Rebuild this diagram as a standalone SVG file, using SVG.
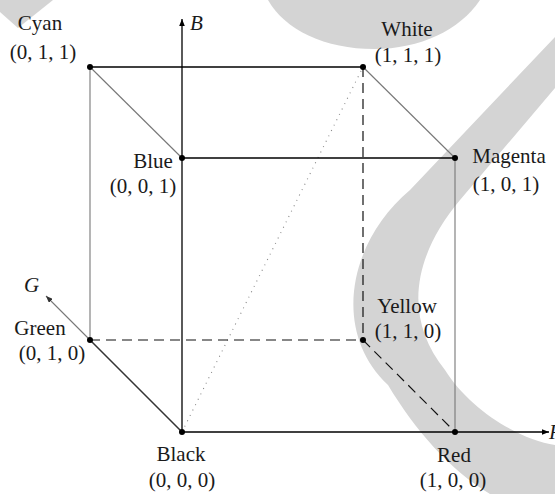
<svg xmlns="http://www.w3.org/2000/svg" width="555" height="494" viewBox="0 0 555 494">
<style>
text{font-family:"Liberation Serif","DejaVu Serif",serif;font-size:21px;fill:#1a1a1a;text-anchor:middle}
.ax{font-style:italic;text-anchor:start}
.wm{fill:#d4d4d4;stroke:none}
.k{stroke:#000;stroke-width:1.3;fill:none}
.g{stroke:#777;stroke-width:1.1;fill:none}
.d{stroke:#111;stroke-width:1.2;fill:none;stroke-dasharray:10 6}
.dot{stroke:#888;stroke-width:1.1;fill:none;stroke-dasharray:1 5}
.pt{fill:#000}
</style>
<defs>
<marker id="ah" viewBox="0 0 10 8" refX="10" refY="4" markerWidth="7" markerHeight="5.6" orient="auto" markerUnits="userSpaceOnUse">
<path d="M0,0 L10,4 L0,8 Z" fill="#000"/>
</marker>
<marker id="ahg" viewBox="0 0 10 8" refX="10" refY="4" markerWidth="7" markerHeight="5.6" orient="auto" markerUnits="userSpaceOnUse">
<path d="M0,0 L10,4 L0,8 Z" fill="#333"/>
</marker>
</defs>
<g id="watermark">
<polygon class="wm" points="0,0 53,0 18,28 0,12"/>
<path class="wm" d="M268 0 C285 30,325 49,374 49 C420 49,460 30,480 0 Z"/>
<path class="wm" d="M555 37 L410 190 C350 240,330 330,388 385 C415 430,450 470,490 494 L555 494 L555 445 C520 440,470 410,445 370 C405 320,410 260,460 200 L555 88 Z"/>
</g>
<g id="connectors">
<line class="g" x1="182" y1="432" x2="46" y2="296" stroke="#555" marker-end="url(#ahg)"/>
<line class="dot" x1="182" y1="432" x2="363" y2="67"/>
<line class="d" x1="363" y1="67" x2="363" y2="340"/>
<line class="d" x1="90" y1="340" x2="363" y2="340"/>
<line class="d" x1="363" y1="340" x2="455" y2="432"/>
<line class="g" x1="90" y1="67" x2="182" y2="158"/>
<line class="g" x1="363" y1="67" x2="455" y2="158"/>
<line class="g" x1="90" y1="67" x2="90" y2="340" stroke="#888"/>
<line class="g" x1="455" y1="158" x2="455" y2="432" stroke="#444"/>
<line x1="90" y1="340" x2="182" y2="432" stroke="#333" stroke-width="1.1"/>
<line class="k" x1="90" y1="67" x2="363" y2="67"/>
<line class="k" x1="182" y1="158" x2="455" y2="158"/>
<line class="k" x1="182" y1="432" x2="182" y2="19" marker-end="url(#ah)"/>
<line class="k" x1="182" y1="432" x2="549" y2="432" marker-end="url(#ah)"/>
</g>
<g id="axis-labels">
<text class="ax" x="190" y="30">B</text>
<text class="ax" x="24" y="292">G</text>
<text class="ax" x="549" y="439">R</text>
</g>
<g id="cyan"><circle class="pt" cx="90" cy="67" r="3"/><text x="40" y="30">Cyan</text><text x="43" y="59">(0, 1, 1)</text></g>
<g id="white"><circle class="pt" cx="363" cy="67" r="3"/><text x="407" y="36">White</text><text x="408" y="62">(1, 1, 1)</text></g>
<g id="blue"><circle class="pt" cx="182" cy="158" r="3"/><text x="153" y="168">Blue</text><text x="143" y="193">(0, 0, 1)</text></g>
<g id="magenta"><circle class="pt" cx="455" cy="158" r="3"/><text x="509" y="163">Magenta</text><text x="506" y="191">(1, 0, 1)</text></g>
<g id="green"><circle class="pt" cx="90" cy="340" r="3"/><text x="40" y="335">Green</text><text x="52" y="360">(0, 1, 0)</text></g>
<g id="yellow"><circle class="pt" cx="363" cy="340" r="3"/><text x="407" y="313">Yellow</text><text x="408" y="338">(1, 1, 0)</text></g>
<g id="black"><circle class="pt" cx="182" cy="432" r="3"/><text x="181" y="461">Black</text><text x="182" y="487">(0, 0, 0)</text></g>
<g id="red"><circle class="pt" cx="455" cy="432" r="3"/><text x="454" y="462">Red</text><text x="453" y="487">(1, 0, 0)</text></g>
</svg>
